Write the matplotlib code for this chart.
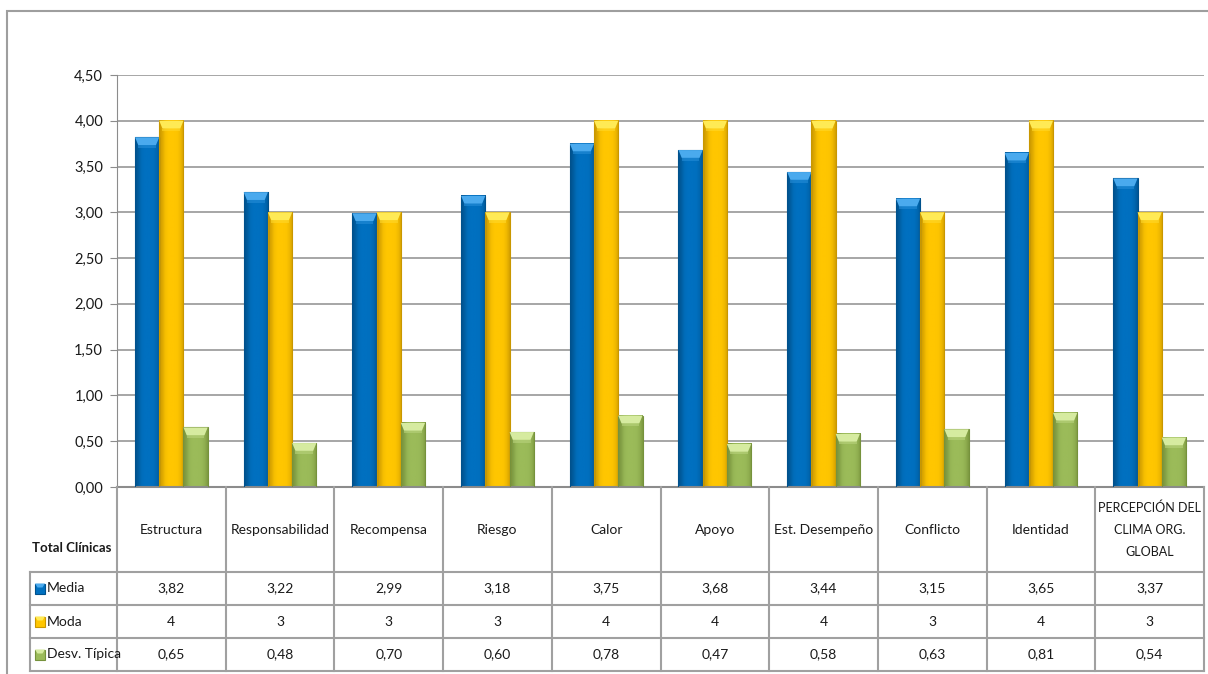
import matplotlib
matplotlib.use("Agg")
import matplotlib.pyplot as plt
import numpy as np
from matplotlib.patches import Rectangle, Polygon
from matplotlib.lines import Line2D
import matplotlib.transforms as mtransforms
from matplotlib.colors import to_rgb

plt.rcParams['font.family'] = ['Lato', 'DejaVu Sans']
FS = 10

# ---- data ----
categories = ["Estructura", "Responsabilidad", "Recompensa", "Riesgo", "Calor",
              "Apoyo", "Est. Desempeño", "Conflicto", "Identidad",
              "PERCEPCIÓN DEL\nCLIMA ORG.\nGLOBAL"]
media = [3.82, 3.22, 2.99, 3.18, 3.75, 3.68, 3.44, 3.15, 3.65, 3.37]
moda = [4, 3, 3, 3, 4, 4, 4, 3, 4, 3]
desv = [0.65, 0.48, 0.70, 0.60, 0.78, 0.47, 0.58, 0.63, 0.81, 0.54]
series_names = ["Media", "Moda", "Desv. Típica"]
row_header = "Total Clínicas"
yticks = [0.0, 0.5, 1.0, 1.5, 2.0, 2.5, 3.0, 3.5, 4.0, 4.5]

# (base, dark edge, light cap)
palette = [("#0070C0", "#00518C", "#4AAAEE"),
           ("#FFC600", "#C99700", "#FFEA55"),
           ("#9BBB59", "#76923C", "#D6EBA0")]

W, H = 1208, 674
fig = plt.figure(figsize=(W / 100, H / 100), dpi=100)

def fx(px):
    return px / W

def fy(py):
    return 1 - py / H

# outer chart frame (right / bottom edges fall outside the canvas)
fig.patches.append(Rectangle((fx(7), fy(690)), fx(1220) - fx(7), fy(11) - fy(690),
                             transform=fig.transFigure, fill=False,
                             edgecolor="#9E9E9E", linewidth=1.5))

ax_left, ax_right, ax_top, ax_bot = 117, 1204, 75, 487
ax = fig.add_axes([fx(ax_left), fy(ax_bot), fx(ax_right - ax_left), fy(ax_top) - fy(ax_bot)])

n = len(categories)
bw = 0.223
x = np.arange(n)
all_series = [media, moda, desv]


def shaded_bar(xc, val, cols):
    base, dark, light = (np.array(to_rgb(c)) for c in cols)
    x0, x1 = xc - bw / 2, xc + bw / 2
    # horizontal shading profile across the bar
    prof = np.array([0.0, 0.35, 0.85, 1.0, 1.0, 1.0, 0.95, 0.7, 0.2])
    t = np.linspace(0, 1, prof.size)
    tt = np.linspace(0, 1, 60)
    p = np.interp(tt, t, prof)
    img = dark[None, :] * (1 - p[:, None]) + base[None, :] * p[:, None]
    ax.imshow(img[None, :, :], extent=[x0, x1, 0, val], aspect='auto',
              interpolation='bilinear', zorder=2)
    ax.add_patch(Rectangle((x0, 0), bw, val, fill=False, edgecolor=dark,
                           linewidth=0.8, zorder=3))
    # bevelled top cap
    ch = 0.085
    ins = 0.03
    ax.add_patch(Polygon([(x0, val), (x1, val), (x1 - ins, val - ch), (x0 + ins, val - ch)],
                         closed=True, facecolor=light, edgecolor='none', zorder=3))
    ax.add_patch(Polygon([(x0 + ins, val - ch), (x1 - ins, val - ch),
                          (x1 - ins, val - ch - 0.03), (x0 + ins, val - ch - 0.03)],
                         closed=True, facecolor=(base + light) / 2, edgecolor='none',
                         zorder=3, alpha=0.6))


for si, vals in enumerate(all_series):
    for i, v in enumerate(vals):
        shaded_bar(x[i] + (si - 1) * bw, v, palette[si])

ax.set_xlim(-0.5, n - 0.5)
ax.set_ylim(0, 4.5)
ax.set_yticks(yticks)
ax.set_yticklabels([f"{v:.2f}".replace(".", ",") for v in yticks], fontsize=FS + 0.5)
ax.yaxis.grid(True, color="#A6A6A6", linewidth=1.4, zorder=0)
ax.set_axisbelow(True)
ax.set_xticks([])
for s in ["top", "right"]:
    ax.spines[s].set_visible(False)
ax.spines["left"].set_color("#8C8C8C")
ax.spines["bottom"].set_color("#8C8C8C")
ax.spines["bottom"].set_linewidth(1.5)
ax.tick_params(axis='y', length=5, color="#8C8C8C", pad=5, labelcolor="#1A1A1A")

# ---- data table under the chart ----
tb = mtransforms.blended_transform_factory(ax.transData, fig.transFigure)
line_col = "#A0A0A0"
row_y = [487, 572, 605, 638, 671]
tab_left = 30

# vertical separators between categories
for b in np.arange(n + 1) - 0.5:
    fig.add_artist(Line2D([b, b], [fy(row_y[0]), fy(row_y[-1])], transform=tb,
                          color=line_col, linewidth=1.5))
# horizontal lines
for r in row_y[1:]:
    fig.add_artist(Line2D([fx(tab_left), fx(ax_right)], [fy(r), fy(r)],
                          transform=fig.transFigure, color=line_col, linewidth=1.5))
fig.add_artist(Line2D([fx(tab_left), fx(tab_left)], [fy(row_y[1]), fy(row_y[-1])],
                      transform=fig.transFigure, color=line_col, linewidth=1.5))

# category labels
hdr_mid = fy((row_y[0] + row_y[1]) / 2)
for i, c in enumerate(categories):
    size = FS if "\n" not in c else FS - 1
    fig.text(x[i], hdr_mid, c, transform=tb, fontsize=size, ha='center', va='center',
             linespacing=2.0, color="#1A1A1A")

fig.text(fx(72), fy(548), row_header, fontsize=FS - 0.5, fontweight='bold',
         ha='center', va='center', color="#1A1A1A")

fmt_rows = [[f"{v:.2f}".replace(".", ",") for v in media],
            [f"{v:d}" for v in moda],
            [f"{v:.2f}".replace(".", ",") for v in desv]]

for ri in range(3):
    yc = fy((row_y[ri + 1] + row_y[ri + 2]) / 2)
    base, dark, light = palette[ri]
    # legend key
    kx, ks = 35, 10
    fig.patches.append(Rectangle((fx(kx), yc - (ks / 2) / H), ks / W, ks / H,
                                 transform=fig.transFigure, facecolor=base,
                                 edgecolor=dark, linewidth=0.8))
    fig.patches.append(Polygon([(fx(kx), yc + (ks / 2) / H), (fx(kx + ks), yc + (ks / 2) / H),
                                (fx(kx + ks - 2.5), yc + 1 / H), (fx(kx + 2.5), yc + 1 / H)],
                               closed=True, transform=fig.transFigure,
                               facecolor=light, edgecolor='none'))
    fig.text(fx(47), yc, series_names[ri], fontsize=FS, ha='left', va='center',
             color="#1A1A1A")
    for i in range(n):
        fig.text(x[i], yc, fmt_rows[ri][i], transform=tb, fontsize=FS, ha='center',
                 va='center', color="#1A1A1A")

fig.savefig("out.png", dpi=100, facecolor="white")
